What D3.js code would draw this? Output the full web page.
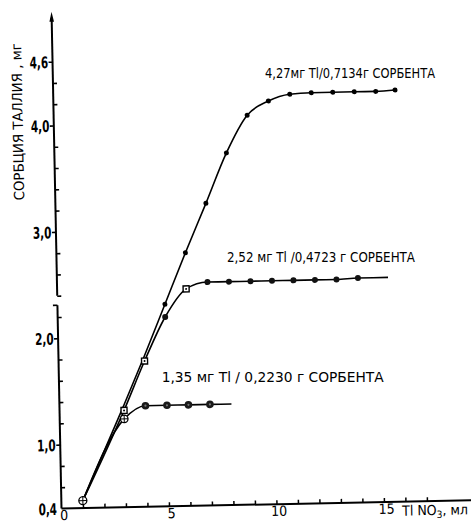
<!DOCTYPE html>
<html><head><meta charset="utf-8">
<script src="https://cdn.jsdelivr.net/npm/d3@7"></script>
<style>
html,body{margin:0;padding:0;background:#fff;}
svg{display:block;}
text{font-family:"Liberation Sans Narrow","DejaVu Sans Condensed","Roboto Condensed",sans-serif;fill:#000;}
</style></head><body>
<svg id="chart" width="471" height="522"></svg>
<script>
// ---------- DATA ----------
const volume1   = [1, 3, 4, 5, 6, 7, 8, 9, 10, 11, 12, 13, 14, 15, 15.9];
const sorption1 = [0.47, 1.36, 1.82, 2.30, 2.78, 3.24, 3.71, 4.06, 4.19, 4.25, 4.26, 4.26, 4.26, 4.26, 4.27];
const volume2   = [1, 3, 4, 5, 6, 7, 8, 9, 10, 11, 12, 13, 14, 15.4];
const sorption2 = [0.47, 1.31, 1.77, 2.18, 2.44, 2.50, 2.50, 2.50, 2.50, 2.50, 2.50, 2.50, 2.51, 2.51];
const volume3   = [1, 3, 4, 5, 6, 7, 8];
const sorption3 = [0.47, 1.23, 1.35, 1.35, 1.35, 1.35, 1.35];
const markedCount = [15, 13, 6];   // points with a marker (the rest is line only)
const seriesLabels = ["4,27мг Tl/0,7134г СОРБЕНТА", "2,52 мг Tl /0,4723 г СОРБЕНТА", "1,35 мг  Tl / 0,2230 г СОРБЕНТА"];
const yMajorTicks  = [0.4, 1.0, 2.0, 3.0, 4.0, 4.6];
const yMajorLabels = ["0,4", "1,0", "2,0", "3,0", "4,0", "4,6"];
const yMinorTicks  = [0.6, 0.8, 1.2, 1.4, 1.6, 1.8, 2.2, 2.4, 2.6, 2.8, 3.2, 3.4, 3.6, 3.8, 4.2, 4.4];
const xMinorTicks  = [1, 2, 3, 4, 5, 6, 7, 8, 9, 10, 11, 12, 13, 14, 15, 16, 17];
const xLabelTicks  = [0, 5, 10, 15];
const xLabels      = ["0", "5", "10", "15"];
const yTitle = "СОРБЦИЯ ТАЛЛИЯ , мг";
const xTitleParts = ["Tl NO", "3", ", мл"];
const yBreak = [2.31, 2.40];   // gap in the y axis
const yAxisTop = 5.07;

// ---------- LAYOUT ----------
const svg = d3.select("#chart");
const O = {x: 61.5, y: 508.5};
const tilt = -1.15; // the scanned drawing is slightly rotated
const x = d3.scaleLinear().domain([0, 15]).range([O.x, O.x + 322.5]);
const y = d3.scaleLinear().domain([0.4, 4.6]).range([O.y, O.y - 446.9]);

const plot = svg.append("g").attr("transform", `rotate(${tilt},${O.x},${O.y})`);

// y axis line with break and arrow
plot.append("line").attr("x1", O.x).attr("x2", O.x).attr("y1", y(0.4)).attr("y2", y(yBreak[0]))
  .attr("stroke", "#000").attr("stroke-width", 2);
plot.append("line").attr("x1", O.x).attr("x2", O.x - 4.5).attr("y1", y(yBreak[0])).attr("y2", y(yBreak[0]))
  .attr("stroke", "#000").attr("stroke-width", 1.6);
plot.append("line").attr("x1", O.x).attr("x2", O.x).attr("y1", y(yBreak[1])).attr("y2", y(yAxisTop) + 6)
  .attr("stroke", "#000").attr("stroke-width", 2);
const tipY = y(yAxisTop);
plot.append("path").attr("d", `M${O.x},${tipY} L${O.x - 2.3},${tipY + 10} L${O.x + 2.3},${tipY + 10} Z`).attr("fill", "#000");

// y major ticks + labels (left)
const yAxisL = plot.append("g").attr("transform", `translate(${O.x},0)`)
  .call(d3.axisLeft(y).tickValues(yMajorTicks).tickSize(4).tickPadding(0.5)
    .tickFormat((d, i) => yMajorLabels[i]));
yAxisL.select(".domain").remove();
yAxisL.selectAll("line").attr("stroke", "#000").attr("stroke-width", 1.6)
  .attr("opacity", d => d === 0.4 ? 0 : 1);
yAxisL.selectAll("text").attr("font-size", 16).attr("font-family", null).attr("fill", "#000")
  .attr("font-weight", "bold").attr("dy", "0.36em")
  .attr("textLength", 18.5).attr("lengthAdjust", "spacingAndGlyphs");

// y minor ticks (right)
const yAxisR = plot.append("g").attr("transform", `translate(${O.x},0)`)
  .call(d3.axisRight(y).tickValues(yMinorTicks).tickSize(4).tickFormat(""));
yAxisR.select(".domain").remove();
yAxisR.selectAll("line").attr("stroke", "#000").attr("stroke-width", 1.6);

// x axis
plot.append("line").attr("x1", O.x).attr("x2", x(19.5)).attr("y1", O.y).attr("y2", O.y)
  .attr("stroke", "#000").attr("stroke-width", 2);
const xAxisT = plot.append("g").attr("transform", `translate(0,${O.y})`)
  .call(d3.axisTop(x).tickValues(xMinorTicks).tickSize(4).tickFormat(""));
xAxisT.select(".domain").remove();
xAxisT.selectAll("line").attr("stroke", "#000").attr("stroke-width", 1.5);
const xAxisB = plot.append("g").attr("transform", `translate(0,${O.y})`)
  .call(d3.axisBottom(x).tickValues(xLabelTicks).tickSize(0).tickFormat((d, i) => xLabels[i]));
xAxisB.select(".domain").remove();
xAxisB.selectAll("text").attr("font-size", 14).attr("font-family", null).attr("fill", "#000")
  .attr("y", 11.8).attr("dy", 0).attr("dx", 2);

// x title
const xt = plot.append("text").attr("x", 402).attr("y", O.y + 14).attr("font-size", 14);
xt.append("tspan").text(xTitleParts[0]);
xt.append("tspan").attr("font-size", 10).attr("dy", 3).text(xTitleParts[1]);
xt.append("tspan").attr("dy", -3).text(xTitleParts[2]);

// y title
plot.append("text").attr("transform", "translate(30.5,121) rotate(-90)")
  .attr("text-anchor", "middle").attr("font-size", 14)
  .attr("textLength", 157).attr("lengthAdjust", "spacingAndGlyphs").text(yTitle);

// ---------- CURVES ----------
const series = [
  d3.zip(volume1, sorption1),
  d3.zip(volume2, sorption2),
  d3.zip(volume3, sorption3)
];
const line = d3.line().x(d => x(d[0])).y(d => y(d[1])).curve(d3.curveMonotoneX);
plot.selectAll("path.curve").data(series).join("path").attr("class", "curve")
  .attr("d", line).attr("fill", "none").attr("stroke", "#000").attr("stroke-width", 1.6);

// markers
function crossCircle(g, cx, cy, r, fill) {
  g.append("circle").attr("cx", cx).attr("cy", cy).attr("r", r).attr("fill", fill).attr("stroke", "#000").attr("stroke-width", 1.3);
  g.append("line").attr("x1", cx - r).attr("x2", cx + r).attr("y1", cy).attr("y2", cy).attr("stroke", "#000").attr("stroke-width", 1);
  g.append("line").attr("x1", cx).attr("x2", cx).attr("y1", cy - r).attr("y2", cy + r).attr("stroke", "#000").attr("stroke-width", 1);
}
const mk = plot.append("g");
// series 1: small dots (shared points at 3,4 are drawn with series 2)
series[0].slice(0, markedCount[0]).forEach((d, i) => {
  if (i < 3) return;
  mk.append("circle").attr("cx", x(d[0])).attr("cy", y(d[1])).attr("r", 2.5).attr("fill", "#000");
});
// series 2
series[1].slice(0, markedCount[1]).forEach((d, i) => {
  if (i === 0) return;
  const cx = x(d[0]), cy = y(d[1]);
  if (i <= 2 || i === 4) {
    mk.append("rect").attr("x", cx - 3).attr("y", cy - 3).attr("width", 6).attr("height", 6)
      .attr("fill", "#fff").attr("stroke", "#000").attr("stroke-width", 1.4);
    mk.append("circle").attr("cx", cx).attr("cy", cy).attr("r", 1).attr("fill", "#000");
  } else {
    mk.append("circle").attr("cx", cx).attr("cy", cy).attr("r", 3).attr("fill", "#111");
  }
});
// series 3
series[2].slice(0, markedCount[2]).forEach((d, i) => {
  if (i === 0) return;
  const cx = x(d[0]), cy = y(d[1]);
  if (i === 1) { crossCircle(mk, cx, cy, 3.8, "#fff"); return; }
  mk.append("circle").attr("cx", cx).attr("cy", cy).attr("r", 3.8).attr("fill", "#1a1a1a");
  mk.append("circle").attr("cx", cx).attr("cy", cy).attr("r", 1.1).attr("fill", "#777");
});
// common start point
crossCircle(mk, x(volume1[0]), y(sorption1[0]), 4, "#fff");

// ---------- ANNOTATIONS (screen coordinates) ----------
const labelPos = [[265, 78, 170], [227, 261.5, 188], [161.7, 381.5, 222]];
svg.selectAll("text.ann").data(seriesLabels).join("text").attr("class", "ann")
  .attr("x", (d, i) => labelPos[i][0]).attr("y", (d, i) => labelPos[i][1])
  .attr("font-size", 14).attr("textLength", (d, i) => labelPos[i][2])
  .attr("lengthAdjust", "spacingAndGlyphs").text(d => d);
</script>
</body></html>
